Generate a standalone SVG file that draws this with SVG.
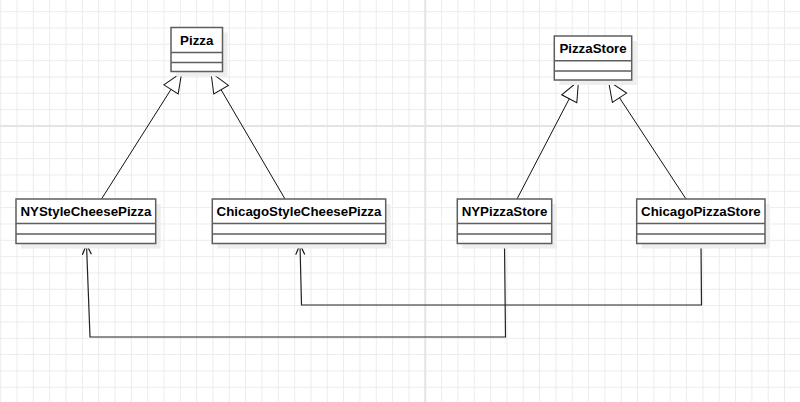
<svg xmlns="http://www.w3.org/2000/svg" width="800" height="402" viewBox="0 0 800 402">
<style>
.box{fill:#fff;stroke:#5e5e5e;stroke-width:1.5}
.shadow{fill:#eeeeee}
.div{stroke:#5e5e5e;stroke-width:1.5;fill:none}
.lbl{font-family:"Liberation Sans",Arial,sans-serif;font-weight:bold;font-size:13.3px;fill:#000;text-anchor:middle}
.gen{fill:none;stroke:#111;stroke-width:1;marker-end:url(#tri)}
.dep{fill:none;stroke:#222;stroke-width:1.2;marker-end:url(#open)}
</style>
<defs>
<pattern id="grid" patternUnits="userSpaceOnUse" x="0.2" y="11.2" width="16.33" height="16.33">
<path d="M0.5,0 V16.33 M0,0.5 H16.33" stroke="#ebebeb" stroke-width="1" fill="none"/>
</pattern>
<marker id="tri" markerUnits="userSpaceOnUse" markerWidth="24" markerHeight="22" refX="21" refY="10" orient="auto" viewBox="0 0 24 22">
<path d="M1,1.5 L21,10 L1,18.5 Z" fill="#fff" stroke="#111" stroke-width="1"/>
</marker>
<marker id="open" markerUnits="userSpaceOnUse" markerWidth="14" markerHeight="12" refX="11" refY="6" orient="auto" viewBox="0 0 14 12">
<path d="M1,1.5 L11,6 L1,10.5" fill="none" stroke="#111" stroke-width="1.2"/>
</marker>
</defs>
<rect width="800" height="402" fill="#fff"/>
<rect width="800" height="402" fill="url(#grid)"/>
<path d="M425.3,0 V402 M0,126 H800" stroke="#e4e4e4" stroke-width="2"/>

<g id="connectors">
<path class="gen" d="M101.5,199 L181.7,72.5"/>
<path class="gen" d="M285,199 L211,72.5"/>
<path class="gen" d="M517,199 L578.5,81"/>
<path class="gen" d="M686,199 L608.5,81"/>
<path class="dep" d="M504.5,244 L505.5,337 L90,337 L86.5,244.5"/>
<path class="dep" d="M701,244 L701.5,305 L301.5,305 L300,244.5"/>
</g>

<g id="Pizza">
<rect class="shadow" x="176" y="32.5" width="51.5" height="44"/>
<rect class="box" x="171" y="27.5" width="51.5" height="44"/>
<path class="div" d="M171,52.5 H222.5 M171,62.5 H222.5"/>
<text class="lbl" x="196.75" y="44.8">Pizza</text>
</g>

<g id="PizzaStore">
<rect class="shadow" x="559.3" y="41" width="77.4" height="44"/>
<rect class="box" x="554.3" y="36" width="77.4" height="44"/>
<path class="div" d="M554.3,60.7 H631.7 M554.3,71 H631.7"/>
<text class="lbl" x="593" y="53.2">PizzaStore</text>
</g>

<g id="NYStyleCheesePizza">
<rect class="shadow" x="21" y="204" width="139.7" height="44.5"/>
<rect class="box" x="16" y="199" width="139.7" height="44.5"/>
<path class="div" d="M16,223.5 H155.7 M16,234 H155.7"/>
<text class="lbl" x="85.9" y="216">NYStyleCheesePizza</text>
</g>

<g id="ChicagoStyleCheesePizza">
<rect class="shadow" x="217.3" y="204" width="173.4" height="44.5"/>
<rect class="box" x="212.3" y="199" width="173.4" height="44.5"/>
<path class="div" d="M212.3,223.5 H385.7 M212.3,234 H385.7"/>
<text class="lbl" x="299" y="216">ChicagoStyleCheesePizza</text>
</g>

<g id="NYPizzaStore">
<rect class="shadow" x="462.3" y="204" width="94.4" height="44.5"/>
<rect class="box" x="457.3" y="199" width="94.4" height="44.5"/>
<path class="div" d="M457.3,223.5 H551.7 M457.3,234 H551.7"/>
<text class="lbl" x="504.5" y="216">NYPizzaStore</text>
</g>

<g id="ChicagoPizzaStore">
<rect class="shadow" x="641.7" y="204" width="128.3" height="44.5"/>
<rect class="box" x="636.7" y="199" width="128.3" height="44.5"/>
<path class="div" d="M636.7,223.5 H765 M636.7,234 H765"/>
<text class="lbl" x="700.9" y="216">ChicagoPizzaStore</text>
</g>
</svg>
